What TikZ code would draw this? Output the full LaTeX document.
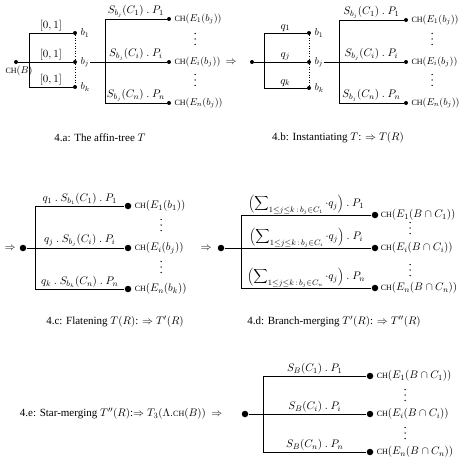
\documentclass[tikz,border=0pt]{standalone}
\usepackage{fontspec}
\setmainfont{Liberation Serif}
\usetikzlibrary{positioning}
\newcommand{\chfn}{{\fontsize{8pt}{10pt}\selectfont CH}}
\newcommand{\qsum}[1]{\Bigl(\displaystyle\sum\nolimits_{1\le j\le k\,:\,b_j\in C_{#1}}\cdot q_j\Bigr)}
\tikzset{
  every node/.style={font=\fontsize{11pt}{13pt}\selectfont},
  leaf/.style={circle, fill, inner sep=0pt, minimum size=4pt},
  bigleaf/.style={circle, fill, inner sep=0pt, minimum size=6.5pt},
  edgelbl/.style={above, pos=0.75, inner sep=1.5pt},
  chlbl/.style={inner sep=1pt, font=\fontsize{10pt}{12pt}\selectfont},
  chwide/.style={inner sep=1pt},
  vdot/.style={circle, fill, inner sep=0pt, minimum size=1.5pt},
}
% three small dots stacked around a point
\newcommand{\vdotsat}[3]{%
  \foreach \k in {-1,0,1}
    \node[vdot] (#1_pt\k) at (#2,#3+5.5*\k) {};}
\begin{document}
\begin{tikzpicture}[x=1pt, y=-1pt, line width=0.6pt]
  \useasboundingbox (0,0) rectangle (461,460);
  % 4.a: the affin-tree
  \node[leaf] (a_root) at (16,62) {};
  \coordinate (a_bus) at (29,62);
  \node[leaf] (a_b1) at (75,33) {};
  \node[leaf] (a_bj) at (75,62) {};
  \node[leaf] (a_bk) at (75,87) {};
  \node[below=0pt of a_root, xshift=3pt, chlbl] (a_chb) {\chfn$(B)$};
  \draw (a_root) -- (a_bus);
  \draw (a_bus) |- node[edgelbl] {$[0,1]$} (a_b1);
  \draw (a_bus) -- node[edgelbl, pos=0.5] {$[0,1]$} (a_bj);
  \draw (a_bus) |- node[edgelbl] {$[0,1]$} (a_bk);
  \draw[dotted] (a_b1) -- (a_bj);
  \draw[dotted] (a_bj) -- (a_bk);
  \node[right=2pt of a_b1, chlbl] (a_lb1) {$b_1$};
  \node[right=2pt of a_bj, chlbl] (a_lbj) {$b_j$};
  \node[right=2pt of a_bk, chlbl] (a_lbk) {$b_k$};
  \coordinate (a_fork) at (105,62);
  \node[leaf] (a_e1) at (169,19) {};
  \node[leaf] (a_ei) at (169,62) {};
  \node[leaf] (a_en) at (169,103) {};
  \draw (a_lbj.east |- a_fork) -- (a_fork);
  \draw (a_fork) |- node[edgelbl] {$S_{b_j}(C_1)\ .\ P_1$} (a_e1);
  \draw (a_fork) -- node[edgelbl, pos=0.5] {$S_{b_j}(C_i)\ .\ P_i$} (a_ei);
  \draw (a_fork) |- node[edgelbl] {$S_{b_j}(C_n)\ .\ P_n$} (a_en);
  \node[right=2pt of a_e1, chlbl] (a_ch1) {\chfn$(E_1(b_j))$};
  \node[right=2pt of a_ei, chlbl] (a_chi) {\chfn$(E_i(b_j))$};
  \node[right=2pt of a_en, chlbl] (a_chn) {\chfn$(E_n(b_j))$};
  \vdotsat{a_vd1}{195}{39}
  \vdotsat{a_vd2}{195}{80}
  \node (a_cap) at (100,138) {4.a: The affin-tree $T$};
  \node (ab_imp) at (231,62) {$\Rightarrow$};
  % 4.b: instantiating
  \node[leaf] (b_root) at (252,62) {};
  \coordinate (b_bus) at (264,62);
  \node[leaf] (b_b1) at (309,33) {};
  \node[leaf] (b_bj) at (309,62) {};
  \node[leaf] (b_bk) at (309,88) {};
  \draw (b_root) -- (b_bus);
  \draw (b_bus) |- node[edgelbl] {$q_1$} (b_b1);
  \draw (b_bus) -- node[edgelbl, pos=0.5] {$q_j$} (b_bj);
  \draw (b_bus) |- node[edgelbl] {$q_k$} (b_bk);
  \draw[dotted] (b_b1) -- (b_bj);
  \draw[dotted] (b_bj) -- (b_bk);
  \node[right=2pt of b_b1, chlbl] (b_lb1) {$b_1$};
  \node[right=2pt of b_bj, chlbl] (b_lbj) {$b_j$};
  \node[right=2pt of b_bk, chlbl] (b_lbk) {$b_k$};
  \coordinate (b_fork) at (339,62);
  \node[leaf] (b_e1) at (406,20) {};
  \node[leaf] (b_ei) at (406,62) {};
  \node[leaf] (b_en) at (406,103) {};
  \draw (b_lbj.east |- b_fork) -- (b_fork);
  \draw (b_fork) |- node[edgelbl] {$S_{b_j}(C_1)\ .\ P_1$} (b_e1);
  \draw (b_fork) -- node[edgelbl, pos=0.5] {$S_{b_j}(C_i)\ .\ P_i$} (b_ei);
  \draw (b_fork) |- node[edgelbl] {$S_{b_j}(C_n)\ .\ P_n$} (b_en);
  \node[right=2pt of b_e1, chlbl] (b_ch1) {\chfn$(E_1(b_j))$};
  \node[right=2pt of b_ei, chlbl] (b_chi) {\chfn$(E_i(b_j))$};
  \node[right=2pt of b_en, chlbl] (b_chn) {\chfn$(E_n(b_j))$};
  \vdotsat{b_vd1}{432}{39}
  \vdotsat{b_vd2}{432}{80}
  \node (b_cap) at (338,138) {4.b: Instantiating $T$: $\Rightarrow T(R)$};
  % 4.c: flatening
  \node (c_imp) at (10,248) {$\Rightarrow$};
  \node[bigleaf] (c_root) at (23,248) {};
  \coordinate (c_bus) at (35,248);
  \node[bigleaf] (c_e1) at (128,206) {};
  \node[bigleaf] (c_ei) at (128,248) {};
  \node[bigleaf] (c_en) at (128,289) {};
  \draw (c_root) -- (c_bus);
  \draw (c_bus) |- node[edgelbl] {$q_1\ .\ S_{b_1}(C_1)\ .\ P_1$} (c_e1);
  \draw (c_bus) -- node[edgelbl, pos=0.5] {$q_j\ .\ S_{b_j}(C_i)\ .\ P_i$} (c_ei);
  \draw (c_bus) |- node[edgelbl] {$q_k\ .\ S_{b_k}(C_n)\ .\ P_n$} (c_en);
  \node[right=2pt of c_e1, chwide] (c_ch1) {\chfn$(E_1(b_1))$};
  \node[right=2pt of c_ei, chwide] (c_chi) {\chfn$(E_i(b_j))$};
  \node[right=2pt of c_en, chwide] (c_chn) {\chfn$(E_n(b_k))$};
  \vdotsat{c_vd1}{161}{225}
  \vdotsat{c_vd2}{161}{267}
  \node (c_cap) at (115,322) {4.c: Flatening $T(R)$: $\Rightarrow T'(R)$};
  \node (cd_imp) at (206,248) {$\Rightarrow$};
  % 4.d: branch-merging
  \node[bigleaf] (d_root) at (221,248) {};
  \coordinate (d_bus) at (241,248);
  \node[bigleaf] (d_e1) at (375,215) {};
  \node[bigleaf] (d_ei) at (375,248) {};
  \node[bigleaf] (d_en) at (375,288) {};
  \draw (d_root) -- (d_bus);
  \draw (d_bus) |- node[edgelbl, inner sep=0.5pt] {$\qsum{1}\ .\ P_1$} (d_e1);
  \draw (d_bus) -- node[edgelbl, pos=0.5, inner sep=0.5pt] {$\qsum{i}\ .\ P_i$} (d_ei);
  \draw (d_bus) |- node[edgelbl, inner sep=0.5pt] {$\qsum{n}\ .\ P_n$} (d_en);
  \node[right=1pt of d_e1, chwide] (d_ch1) {\chfn$(E_1(B\cap C_1))$};
  \node[right=1pt of d_ei, chwide] (d_chi) {\chfn$(E_i(B\cap C_i))$};
  \node[right=1pt of d_en, chwide] (d_chn) {\chfn$(E_n(B\cap C_n))$};
  \vdotsat{d_vd1}{410}{228}
  \vdotsat{d_vd2}{410}{270}
  \node (d_cap) at (334,322) {4.d: Branch-merging $T'(R)$: $\Rightarrow T''(R)$};
  % 4.e: star-merging
  \node[anchor=east] (e_cap) at (226,414) {4.e: Star-merging $T''(R)$:$\Rightarrow T_3(\Lambda.$\chfn$(B))$ \ $\Rightarrow$};
  \node[bigleaf] (e_root) at (245,414) {};
  \coordinate (e_bus) at (263,414);
  \node[bigleaf] (e_e1) at (370,376) {};
  \node[bigleaf] (e_ei) at (370,414) {};
  \node[bigleaf] (e_en) at (370,452) {};
  \draw (e_root) -- (e_bus);
  \draw (e_bus) |- node[edgelbl] {$S_B(C_1)\ .\ P_1$} (e_e1);
  \draw (e_bus) -- node[edgelbl, pos=0.5] {$S_B(C_i)\ .\ P_i$} (e_ei);
  \draw (e_bus) |- node[edgelbl] {$S_B(C_n)\ .\ P_n$} (e_en);
  \node[right=2pt of e_e1, chwide] (e_ch1) {\chfn$(E_1(B\cap C_1))$};
  \node[right=2pt of e_ei, chwide] (e_chi) {\chfn$(E_i(B\cap C_i))$};
  \node[right=2pt of e_en, chwide] (e_chn) {\chfn$(E_n(B\cap C_n))$};
  \vdotsat{e_vd1}{405}{395}
  \vdotsat{e_vd2}{405}{433}
\end{tikzpicture}
\end{document}
